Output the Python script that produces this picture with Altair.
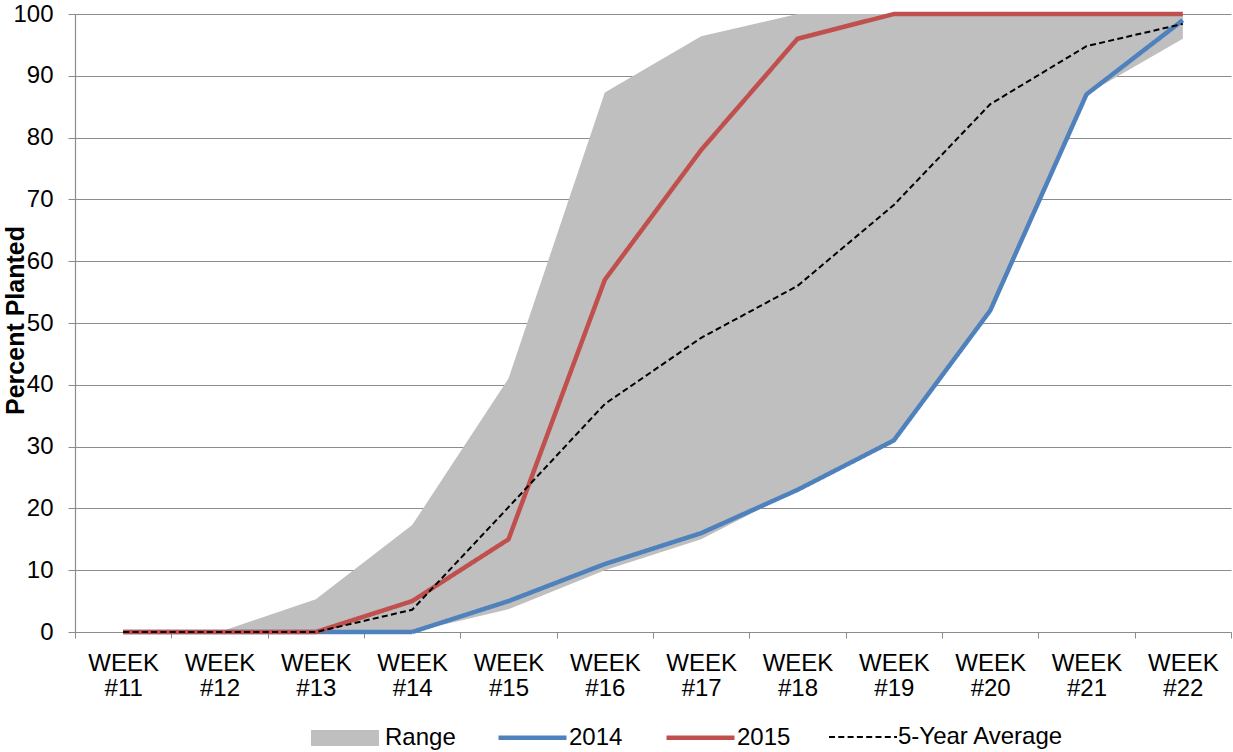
import altair as alt
import pandas as pd

# ---- data ----
weeks = ["WEEK #11", "WEEK #12", "WEEK #13", "WEEK #14", "WEEK #15", "WEEK #16",
         "WEEK #17", "WEEK #18", "WEEK #19", "WEEK #20", "WEEK #21", "WEEK #22"]
range_low = [0, 0, 0, 0, 3.7, 10, 15, 23, 31, 52, 87, 96]
range_high = [0, 0, 5.3, 17.3, 41, 87.3, 96.4, 100, 100, 100, 100, 100]
y2014 = [0, 0, 0, 0, 5, 11, 16, 23, 31, 52, 87, 99]
y2015 = [0, 0, 0, 5, 15, 57, 78, 96, 100, 100, 100, 100]
avg5 = [0, 0, 0, 3.6, 20.2, 36.9, 47.6, 56, 69.1, 85.4, 94.8, 98.4]

range_name = ["Range"]
range_color = ["#BFBFBF"]
line_names = ["2014", "2015", "5-Year Average"]
line_colors = ["#4F81BD", "#C0504D", "#000000"]
line_widths = [4.5, 4.5, 2]
line_dashes = [[1, 0], [1, 0], [6, 3.3]]
y_ticks = list(range(0, 101, 10))

FONT = "Liberation Sans"
GRID = "#8C8C8C"

range_df = pd.DataFrame({"week": weeks, "low": range_low, "high": range_high,
                         "series": "Range"})
df2014 = pd.DataFrame({"week": weeks, "value": y2014, "series": "2014"})
df2015 = pd.DataFrame({"week": weeks, "value": y2015, "series": "2015"})
dfavg = pd.DataFrame({"week": weeks, "value": avg5, "series": "5-Year Average"})

x_enc = alt.X(
    "week:N", sort=weeks, bandPosition=0.5,
    scale=alt.Scale(type="band", domain=weeks, paddingInner=0, paddingOuter=0),
    axis=alt.Axis(title=None, grid=False, labelAngle=0,
                  labelExpr="split(datum.label, ' ')",
                  labelFont=FONT, labelFontSize=24, labelColor="#000000",
                  labelBaseline="top", labelLineHeight=25, labelPadding=13,
                  tickBand="extent", tickSize=6, tickColor=GRID,
                  domainColor=GRID, domainWidth=1.2),
)

y_scale = alt.Scale(domain=[0, 100], nice=False)
y_axis = alt.Axis(values=y_ticks, title="Percent Planted",
                  titleFont=FONT, titleFontSize=25, titleFontWeight="bold",
                  titleColor="#000000", titleX=-60, titleY=306,
                  titleBaseline="middle", titleAlign="center",
                  labelFont=FONT, labelFontSize=24, labelColor="#000000",
                  labelPadding=15, tickSize=7, tickColor=GRID,
                  grid=True, gridColor=GRID, gridWidth=1.2,
                  domainColor=GRID, domainWidth=1.2)

legend_common = dict(
    title=None, orient="none", direction="horizontal", symbolSize=4624,
    labelFont=FONT, labelFontSize=24, labelColor="#000000",
    labelLimit=400, symbolOpacity=1, padding=0, offset=0,
)

legend_range = alt.Legend(
    legendX=236, legendY=690, symbolType="M-1,-0.235H1V0.235H-1Z",
    symbolStrokeWidth=0, labelOffset=6, **legend_common)
legend_lines = alt.Legend(
    legendX=421, legendY=687, symbolType="stroke", columnPadding=34,
    labelOffset=0, **legend_common)

fill_enc = alt.Fill("series:N",
                    scale=alt.Scale(domain=range_name, range=range_color),
                    legend=legend_range)
stroke_enc = alt.Stroke("series:N",
                        scale=alt.Scale(domain=line_names, range=line_colors),
                        legend=legend_lines)
width_enc = alt.StrokeWidth("series:N",
                            scale=alt.Scale(type="ordinal", domain=line_names,
                                            range=line_widths),
                            legend=legend_lines)
dash_enc = alt.StrokeDash("series:N",
                          scale=alt.Scale(domain=line_names, range=line_dashes),
                          legend=legend_lines)

area = alt.Chart(range_df).mark_area(opacity=1).encode(
    x=x_enc,
    y=alt.Y("high:Q", scale=y_scale, axis=y_axis),
    y2="low:Q",
    fill=fill_enc,
)


def line_layer(d):
    return alt.Chart(d).mark_line(strokeJoin="round").encode(
        x=x_enc, y=alt.Y("value:Q", scale=y_scale),
        stroke=stroke_enc, strokeWidth=width_enc, strokeDash=dash_enc)


chart = alt.layer(area, line_layer(df2014), line_layer(df2015), line_layer(dfavg)).properties(
    width=1156, height=618,
    autosize=alt.AutoSizeParams(type="none"),
    padding={"left": 75, "top": 14, "right": 2, "bottom": 120},
    background="white",
).configure_view(stroke=None)

chart.save("out.html", embed_options={"renderer": "svg", "actions": False})
